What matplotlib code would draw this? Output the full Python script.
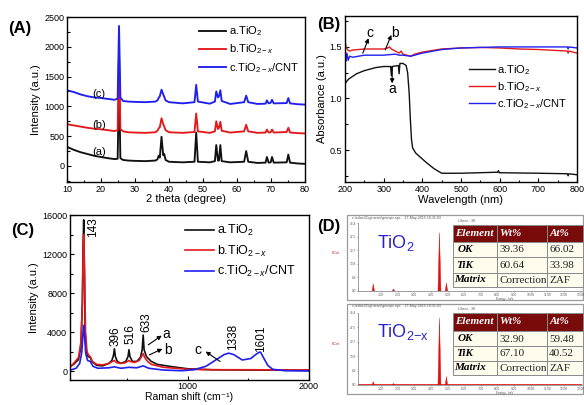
import matplotlib
matplotlib.use('Agg')
import matplotlib.pyplot as plt
from matplotlib.patches import Rectangle
from matplotlib.ticker import MultipleLocator

plt.rcParams['font.family'] = ['Liberation Sans', 'DejaVu Sans']
plt.rcParams['mathtext.fontset'] = 'custom'
plt.rcParams['mathtext.rm'] = 'Liberation Sans'
plt.rcParams['mathtext.it'] = 'Liberation Sans:italic'
plt.rcParams['mathtext.bf'] = 'Liberation Sans:bold'
plt.rcParams['axes.linewidth'] = 1.0

# ---------------- data ----------------
series_labels = ['a.TiO$_2$', 'b.TiO$_{2-x}$', 'c.TiO$_{2-x}$/CNT']

# (A) XRD
xrd_2theta = [10, 12, 14, 16, 18, 20, 22, 24, 24.9, 25.3, 25.7, 26.5, 28, 30, 33, 36,
              36.6, 36.95, 37.3, 37.8, 38.3, 38.6, 39.0, 40, 44, 47.5, 48.0, 48.5,
              52, 53.5, 53.9, 54.4, 54.7, 55.1, 55.5, 58, 62.1, 62.7, 63.3,
              66, 68.4, 68.8, 69.3, 69.9, 70.3, 70.8, 74.6, 75.1, 75.6, 78, 80]
xrd_a = [320, 270, 230, 200, 170, 150, 130, 115, 120, 1500, 130, 100, 90, 85, 80, 90,
         110, 170, 140, 490, 180, 200, 100, 70, 60, 70, 560, 70,
         60, 80, 350, 90, 90, 350, 80, 60, 70, 250, 70,
         50, 55, 150, 55, 60, 150, 55, 60, 190, 55, 40, 35]
xrd_b = [700, 680, 660, 640, 625, 615, 600, 585, 600, 1900, 620, 580, 565, 560, 555, 565,
         590, 630, 650, 800, 700, 660, 600, 565, 555, 570, 880, 580,
         555, 580, 750, 620, 640, 740, 590, 560, 580, 690, 580,
         555, 560, 610, 560, 565, 610, 560, 570, 640, 560, 550, 545]
xrd_c = [1270, 1240, 1200, 1170, 1150, 1140, 1125, 1110, 1130, 2350, 1150, 1090, 1080, 1075, 1070, 1080,
         1100, 1140, 1170, 1280, 1200, 1160, 1100, 1070, 1050, 1070, 1360, 1080,
         1045, 1080, 1250, 1150, 1170, 1270, 1090, 1040, 1070, 1180, 1070,
         1040, 1045, 1100, 1050, 1060, 1110, 1050, 1055, 1140, 1050, 1035, 1030]
xrd_curve_tags = ['(a)', '(b)', '(c)']

# (B) UV-vis absorbance
uv_wl_a = [200, 205, 210, 230, 250, 280, 300, 318, 320, 322, 338, 340, 342, 350, 358, 362, 366,
           369, 372, 375, 383, 395, 410, 430, 450, 500, 595, 597, 599, 700, 775, 777, 779, 800]
uv_abs_a = [1.14, 1.17, 1.19, 1.24, 1.27, 1.30, 1.31, 1.31, 1.22, 1.31, 1.32, 1.24, 1.34, 1.34, 1.32, 1.25, 1.05,
            0.80, 0.60, 0.52, 0.47, 0.43, 0.38, 0.32, 0.275, 0.275, 0.285, 0.30, 0.28, 0.275, 0.27, 0.25, 0.27, 0.26]
uv_wl_b = [200, 203, 207, 212, 220, 250, 280, 300, 310, 315, 320, 330, 340, 345, 350,
           360, 370, 380, 400, 450, 500, 550, 600, 650, 700, 750, 775, 777, 779, 800]
uv_abs_b = [1.56, 1.50, 1.47, 1.46, 1.47, 1.48, 1.48, 1.48, 1.49, 1.50, 1.48, 1.46, 1.44, 1.46, 1.43,
            1.42, 1.41, 1.43, 1.45, 1.48, 1.49, 1.495, 1.49, 1.48, 1.475, 1.465, 1.46, 1.44, 1.46, 1.44]
uv_wl_c = [200, 202, 205, 208, 212, 220, 250, 280, 300, 330, 340, 350, 370, 380, 400,
           450, 500, 550, 600, 650, 700, 750, 775, 777, 779, 800]
uv_abs_c = [1.40, 1.36, 1.44, 1.37, 1.41, 1.40, 1.42, 1.42, 1.42, 1.43, 1.42, 1.42, 1.41, 1.42, 1.44,
            1.475, 1.49, 1.495, 1.50, 1.50, 1.50, 1.50, 1.50, 1.48, 1.50, 1.49]

# (C) Raman
raman_a_x = [30, 60, 100, 120, 132, 138, 143, 148, 155, 165, 180, 197, 210, 250, 300, 350, 375, 388, 396, 404,
             420, 450, 490, 508, 516, 524, 545, 580, 610, 625, 633, 641, 660, 700, 750, 850, 1000, 1200, 1500, 2000]
raman_a_y = [500, 700, 1200, 2500, 7000, 13000, 15500, 11000, 4000, 2000, 1500, 1400, 1000, 600, 550, 800, 1100, 1600, 2300, 1500,
             1000, 800, 1000, 1500, 2200, 1500, 1000, 1000, 1400, 2200, 3700, 2200, 1500, 1000, 700, 500, 250, 150, 120, 100]
raman_b_x = [30, 60, 100, 120, 132, 138, 143, 150, 158, 170, 185, 197, 215, 250, 300, 350, 380, 396, 412, 440,
             480, 505, 516, 528, 560, 600, 620, 633, 646, 670, 700, 800, 1000, 1200, 1500, 2000]
raman_b_y = [400, 800, 1400, 3000, 7000, 12000, 14000, 10000, 4000, 2000, 1600, 1500, 1000, 700, 650, 800, 1000, 1100, 900, 800,
             850, 1000, 1100, 1000, 900, 1100, 1500, 1800, 1400, 1000, 700, 400, 200, 150, 150, 120]
raman_c_x = [30, 80, 110, 128, 136, 143, 150, 160, 175, 197, 220, 260, 350, 396, 450, 516, 580, 633, 680, 800,
             950, 1050, 1150, 1250, 1300, 1338, 1380, 1450, 1520, 1560, 1590, 1601, 1620, 1660, 1700, 1800, 2000]
raman_c_y = [100, 300, 800, 2000, 3800, 4700, 3500, 1800, 1100, 1000, 500, 300, 350, 450, 300, 400, 350, 550, 300, 120,
             50, 150, 500, 1300, 1700, 1850, 1700, 1150, 1300, 1700, 1950, 1950, 1500, 600, 200, 50, 20]
raman_peak_labels = ['143', '396', '516', '633', '1338', '1601']
raman_peak_label_x = [218, 405, 531, 662, 1372, 1605]
raman_peak_label_y = [14800, 3580, 3800, 5000, 3500, 3290]

# (D) EDS
eds_energy = [0.52, 1.74, 4.51, 4.93]
eds_counts_tio2 = [3.6, 1.0, 29.5, 4.1]
eds_counts_tio2x = [1.6, 0.8, 32.0, 4.0]
eds_header = ['Element', 'Wt%', 'At%']
eds_elements = ['OK', 'TiK', 'Matrix']
tio2_wt = ['39.36', '60.64', 'Correction']
tio2_at = ['66.02', '33.98', 'ZAF']
tio2x_wt = ['32.90', '67.10', 'Correction']
tio2x_at = ['59.48', '40.52', 'ZAF']
eds_titles = ['TiO$_2$', 'TiO$_{2\\mathrm{-x}}$']

# ---------------- figure ----------------
W, H = 584, 405
fig = plt.figure(figsize=(W / 100, H / 100), dpi=100)


def px_axes(l, t, r, b, **kw):
    return fig.add_axes([l / W, 1 - b / H, (r - l) / W, (b - t) / H], **kw)


COLORS = ['#111111', '#e3191c', '#1f1ff0']


def style(ax, xmaj, xmin, ymaj, ymin):
    ax.xaxis.set_major_locator(MultipleLocator(xmaj))
    ax.xaxis.set_minor_locator(MultipleLocator(xmin))
    ax.yaxis.set_major_locator(MultipleLocator(ymaj))
    ax.yaxis.set_minor_locator(MultipleLocator(ymin))
    ax.tick_params(which='both', direction='in', top=False, right=False,
                   labelsize=6.5, pad=2, width=0.8)
    ax.tick_params(which='major', length=3)
    ax.tick_params(which='minor', length=1.8)


# ----- (A)
axA = px_axes(67, 17, 305, 182)
for y, c, l in zip([xrd_a, xrd_b, xrd_c], COLORS, series_labels):
    axA.plot(xrd_2theta, y, color=c, lw=1.35, label=l)
axA.set_xlim(10, 80)
axA.set_ylim(-270, 2500)
style(axA, 10, 5, 500, 250)
axA.set_xlabel('2 theta (degree)', fontsize=8, labelpad=0)
axA.set_ylabel('Intensity (a.u.)', fontsize=8, labelpad=2)
for tag, y in zip(xrd_curve_tags, [240, 688, 1203]):
    axA.text(19.5, y, tag, fontsize=8, ha='center', va='center')
axA.legend(loc='upper left', bbox_to_anchor=(0.555, 0.955), frameon=False, fontsize=8,
           handlelength=2.4, handletextpad=0.3, labelspacing=0.4, borderpad=0, borderaxespad=0)

# ----- (B)
axB = px_axes(345, 16, 577, 182)
for x, y, c, l in zip([uv_wl_a, uv_wl_b, uv_wl_c], [uv_abs_a, uv_abs_b, uv_abs_c], COLORS, series_labels):
    axB.plot(x, y, color=c, lw=1.0, label=l)
axB.set_xlim(200, 800)
axB.set_ylim(0.19, 1.80)
style(axB, 100, 50, 0.5, 0.25)
axB.set_xlabel('Wavelength (nm)', fontsize=8, labelpad=1)
axB.set_ylabel('Absorbance (a.u.)', fontsize=8, labelpad=2)
axB.legend(loc='upper left', bbox_to_anchor=(0.535, 0.715), frameon=False, fontsize=8,
           handlelength=2.3, handletextpad=0.2, labelspacing=0.28, borderpad=0, borderaxespad=0)
ap = dict(arrowstyle='-|>', lw=0.8, color='k', mutation_scale=6, shrinkA=0, shrinkB=0)
axB.annotate('', xy=(261, 1.584), xytext=(246, 1.439), arrowprops=ap)
axB.annotate('', xy=(320, 1.617), xytext=(304, 1.471), arrowprops=ap)
axB.annotate('', xy=(322, 1.147), xytext=(322, 1.309), arrowprops=ap)
axB.text(265, 1.633, 'c', fontsize=10, ha='center', va='center')
axB.text(330, 1.639, 'b', fontsize=10, ha='center', va='center')
axB.text(322, 1.089, 'a', fontsize=10, ha='center', va='center')

# ----- (C)
axC = px_axes(70, 215, 309, 380)
for x, y, c, l in zip([raman_a_x, raman_b_x, raman_c_x], [raman_a_y, raman_b_y, raman_c_y], COLORS, series_labels):
    axC.plot(x, y, color=c, lw=1.2, label=l)
axC.set_xlim(30, 2000)
axC.set_ylim(-900, 16000)
style(axC, 1000, 500, 4000, 2000)
axC.tick_params(axis='x', which='both', pad=1.3)
axC.set_xlabel('Raman shift (cm\u207b\u00b9)', fontsize=7.5, labelpad=0.5)
axC.set_ylabel('Intensity (a.u.)', fontsize=8, labelpad=2)
for t, x, y in zip(raman_peak_labels, raman_peak_label_x, raman_peak_label_y):
    axC.text(x, y, t, rotation=90, fontsize=8.5, ha='center', va='center')
axC.legend(loc='upper left', bbox_to_anchor=(0.483, 0.95), frameon=False, fontsize=9,
           handlelength=2.3, handletextpad=0.2, labelspacing=0.42, borderpad=0, borderaxespad=0)
axC.annotate('', xy=(786, 3650), xytext=(675, 2700), arrowprops=ap)
axC.annotate('', xy=(791, 2290), xytext=(684, 1670), arrowprops=ap)
axC.annotate('', xy=(1148, 2015), xytext=(1267, 1000), arrowprops=ap)
axC.text(827, 3784, 'a', fontsize=10, ha='center', va='center')
axC.text(840, 2185, 'b', fontsize=10, ha='center', va='center')
axC.text(1088, 2185, 'c', fontsize=10, ha='center', va='center')

# ----- (D) background boxes
axBG = fig.add_axes([0, 0, 1, 1], zorder=1)
axBG.set_xlim(0, W)
axBG.set_ylim(H, 0)
axBG.axis('off')
boxes = [(347, 215, 583, 300), (347, 304, 583, 394)]
for (l, t, r, b) in boxes:
    axBG.add_patch(Rectangle((l, t), r - l, b - t, facecolor='white', edgecolor='#9a9a9a', lw=0.9))
    axBG.text(352, t + 2.5, 'c:\\edax32\\genesis\\genspc.spc    27-May-2015 10:31:03',
              fontsize=2.6, color='#555555', va='center', ha='left')
    axBG.text(467, t + 5.5, 'LSecs : 38', fontsize=2.6, color='#555555', va='center', ha='center')
    axBG.text(505, b - 1.2, 'Energy - keV', fontsize=2.2, color='#555555', va='center', ha='center')

# ----- (D) EDS spectra
spec_boxes = [(358, 223, 582, 291), (358, 313, 582, 385)]
for (l, t, r, b), counts in zip(spec_boxes, [eds_counts_tio2, eds_counts_tio2x]):
    ax = px_axes(l, t, r, b, zorder=2)
    ax.patch.set_alpha(0)
    ax.plot([-0.4, 13.1], [0.25, 0.25], color='#e01010', lw=0.6)
    for e, h in zip(eds_energy, counts):
        w = 0.09 if h > 10 else 0.07
        ax.fill([e - w, e, e + w], [0, h, 0], color='#e01010', lw=0.3)
    ax.set_xlim(-0.4, 13.1)
    ax.set_ylim(0, 34.4)
    ax.set_yticks([0, 6.9, 13.8, 20.7, 27.5, 34.4])
    ax.set_yticklabels(['0.0', '6.9', '13.8', '20.7', '27.5', '34.4'])
    ax.set_xticks(range(1, 14))
    ax.set_xticklabels(['%d.00' % v for v in range(1, 14)])
    ax.tick_params(labelsize=2.3, length=0.9, width=0.4, pad=0.4, colors='#555555')
    for s in ['top', 'right']:
        ax.spines[s].set_visible(False)
    for s in ['left', 'bottom']:
        ax.spines[s].set_linewidth(0.5)
        ax.spines[s].set_color('#777777')
    ax.text(-0.1, 0.55, 'KCnt', transform=ax.transAxes, fontsize=2.6, color='#dd2222', ha='center')

# ----- (D) tables and titles overlay
axO = fig.add_axes([0, 0, 1, 1], zorder=3)
axO.set_xlim(0, W)
axO.set_ylim(H, 0)
axO.axis('off')

col_edges = [453, 497, 547, 583]
row_edges_list = [[225, 242, 257, 273, 287], [313, 331, 346, 361, 375]]
for rows_e, wt, at in zip(row_edges_list, [tio2_wt, tio2x_wt], [tio2_at, tio2x_at]):
    for i in range(4):
        for j in range(3):
            x0, x1 = col_edges[j], col_edges[j + 1]
            y0, y1 = rows_e[i], rows_e[i + 1]
            fc = '#7a0b0b' if i == 0 else '#fffcee'
            axO.add_patch(Rectangle((x0, y0), x1 - x0, y1 - y0, facecolor=fc,
                                    edgecolor='#8a8a8a', lw=0.7))
            ym = (y0 + y1) / 2
            if i == 0:
                axO.text(x0 + 2.5, ym, eds_header[j], fontsize=8, color='white',
                         family='Liberation Serif', weight='bold', style='italic', va='center', ha='left')
            else:
                if j == 0:
                    ind = [5, 3, 1][i - 1]
                    axO.text(x0 + ind, ym, eds_elements[i - 1], fontsize=8, color='black',
                             family='Liberation Serif', weight='bold', style='italic', va='center', ha='left')
                else:
                    txt = [wt, at][j - 1][i - 1]
                    axO.text(x0 + 2, ym + 0.5, txt, fontsize=8, color='#222222',
                             family='Liberation Serif', va='center', ha='left')

axO.text(377, 248, eds_titles[0], fontsize=13, color='#2424c8', ha='left', va='baseline')
axO.text(377, 337, eds_titles[1], fontsize=13, color='#2424c8', ha='left', va='baseline')

# panel letters
for t, x, y in [('(A)', 20, 29), ('(B)', 329, 25), ('(C)', 23, 231), ('(D)', 329, 226)]:
    axO.text(x, y, t, fontsize=12, weight='bold', ha='center', va='center')

fig.savefig('out.png', dpi=100)
